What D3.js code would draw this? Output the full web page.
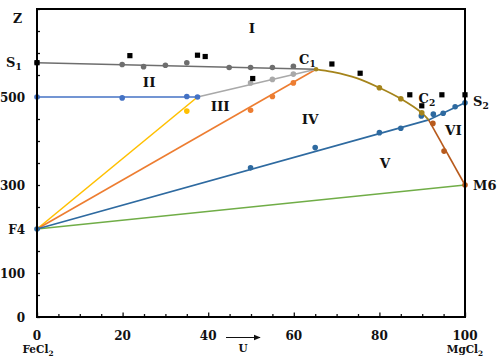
<!DOCTYPE html>
<html><head><meta charset="utf-8">
<script src="https://cdn.jsdelivr.net/npm/d3@7"></script>
<style>body{margin:0;background:#fff}svg{display:block}text{font-family:"DejaVu Serif",serif;font-weight:bold;fill:#111}</style>
</head><body><svg id="c" width="500" height="361"></svg>
<script>
// ---- data ----
const xTickValues = [0, 20, 40, 60, 80, 100];
const yTickValues = [0, 100, 200, 300, 500];
const yTickText = ["0", "100", "F4", "300", "500"];
const s1Line = [[0, 578], [65.2, 563]];
const s1Points = [[0, 578], [19.9, 574], [24.9, 569], [30, 572], [35, 578], [44.9, 567], [49.9, 567], [55, 567], [59.9, 570]];
const lightGrayLine = [[37.5, 500], [65.2, 563]];
const lightGrayPoints = [[49.9, 532], [55, 540], [59.9, 552]];
const blueFlatLine = [[0, 500], [37.5, 500]];
const blueFlatPoints = [[0, 500], [19.9, 498], [35, 501], [37.5, 500]];
const yellowLine = [[0, 200], [37.5, 500]];
const yellowPoints = [[35, 468]];
const orangeLine = [[0, 200], [65.2, 563]];
const orangePoints = [[49.9, 470], [55, 501], [59.9, 532]];
const goldCurve = [[65.2, 563], [69, 557], [74.7, 543], [80, 521], [85, 496], [89.9, 464], [91.5, 448]];
const goldPoints = [[80, 521], [85, 496], [89.9, 464]];
const steelLine = [[0, 200], [91.5, 448], [100, 487]];
const steelPoints = [[0, 200], [49.9, 339], [65, 385], [80, 419], [85, 429], [89.8, 457], [92.6, 461], [94.9, 463], [97.7, 478], [100, 487]];
const brownLine = [[91.5, 448], [100, 300]];
const brownPoints = [[92.5, 440], [95.1, 377], [100, 300]];
const greenLine = [[0, 200], [100, 300]];
const squares = [[0, 578], [21.7, 594], [37.5, 595], [39.3, 592], [50.4, 542], [68.9, 575], [75.5, 554], [87.1, 505], [89.9, 480], [94.6, 505], [100, 505]];
const regionNames = ["I", "II", "III", "IV", "V", "VI"];
const regionPos = [[50.2, 656], [26.2, 535], [42.8, 480], [63.8, 449], [81.3, 349], [97.3, 425]];

// ---- chart ----
const svg = d3.select("#c");
const x = d3.scaleLinear().domain([0, 100]).range([37, 465]);
const y = d3.scaleLinear().domain([0, 700]).range([317, 9]);
const line = d3.line().x(d => x(d[0])).y(d => y(d[1]));
const curve = d3.line().x(d => x(d[0])).y(d => y(d[1])).curve(d3.curveCatmullRom.alpha(0.5));

// ticks (inside)
const xt = svg.append("g").attr("transform", "translate(0,317)")
  .call(d3.axisTop(x).tickValues(d3.range(0, 101, 5)).tickSize(3).tickFormat(""));
xt.selectAll(".tick line").attr("y2", d => d % 20 === 0 ? -4.5 : -3).attr("stroke", "#111").attr("stroke-width", 1.3);
xt.select(".domain").remove();
const yt = svg.append("g").attr("transform", "translate(37,0)")
  .call(d3.axisRight(y).tickValues(d3.range(0, 701, 50)).tickSize(3).tickFormat(""));
yt.selectAll(".tick line").attr("stroke", "#111").attr("stroke-width", 1.3);
yt.select(".domain").remove();

function drawLine(data, color, w, gen) {
  svg.append("path").datum(data).attr("d", (gen || line)).attr("fill", "none")
    .attr("stroke", color).attr("stroke-width", w || 1.6);
}
function drawPts(data, color, r) {
  svg.append("g").selectAll("circle").data(data).join("circle")
    .attr("cx", d => x(d[0])).attr("cy", d => y(d[1])).attr("r", r || 2.8).attr("fill", color);
}

drawLine(greenLine, "#70ad47");
drawLine(yellowLine, "#ffc000");
drawLine(orangeLine, "#ed7d31");
drawLine(steelLine, "#2e6aa0");
drawLine(brownLine, "#b85a1c");
drawLine(blueFlatLine, "#4472c4");
drawLine(lightGrayLine, "#a9a9a9");
drawLine(s1Line, "#6e6e6e");
drawLine(goldCurve, "#a5841b", 1.8, curve);

drawPts(yellowPoints, "#ffc000");
drawPts(orangePoints, "#ed7d31");
drawPts(steelPoints, "#2e6aa0");
drawPts(brownPoints, "#b85a1c");
drawPts(blueFlatPoints, "#4472c4");
drawPts(lightGrayPoints, "#a9a9a9");
drawPts(s1Points, "#6e6e6e");
drawPts(goldPoints, "#a5841b");
drawPts([[65.2, 563]], "#a5841b", 2.3);

svg.append("g").selectAll("rect").data(squares).join("rect")
  .attr("x", d => x(d[0]) - 2.6).attr("y", d => y(d[1]) - 2.6)
  .attr("width", 5.2).attr("height", 5.2).attr("fill", "#000");

// frame
svg.append("rect").attr("x", 37).attr("y", 9).attr("width", 428).attr("height", 308)
  .attr("fill", "none").attr("stroke", "#000").attr("stroke-width", 2);

// tick labels
svg.append("g").selectAll("text").data(xTickValues).join("text")
  .attr("x", d => x(d)).attr("y", 339.5).attr("text-anchor", "middle")
  .style("font-size", "12px").text(d => d);
svg.append("g").selectAll("text").data(yTickValues).join("text")
  .attr("x", 25).attr("y", d => y(d) + 4.5).attr("text-anchor", "end")
  .style("font-size", "12px").text((d, i) => yTickText[i]);

// region labels
svg.append("g").selectAll("text").data(regionNames).join("text")
  .attr("x", (d, i) => x(regionPos[i][0])).attr("y", (d, i) => y(regionPos[i][1]) + 5)
  .attr("text-anchor", "middle").style("font-size", "13.5px").text(d => d);

function subLabel(px, py, main, sub, size, anchor) {
  const t = svg.append("text").attr("x", px).attr("y", py).style("font-size", size + "px")
    .attr("text-anchor", anchor || "start");
  t.append("tspan").text(main);
  if (sub) t.append("tspan").attr("dy", 3).style("font-size", (size * 0.7) + "px").text(sub);
}
subLabel(13, 23, "Z", "", 12.5);
subLabel(6, 67, "S", "1", 13);
subLabel(x(65.2) - 17, y(563) - 5, "C", "1", 13);
subLabel(x(91.5) - 10, y(448) - 17, "C", "2", 13);
subLabel(473, 106, "S", "2", 13);
subLabel(473, 190, "M6", "", 13);
subLabel(38, 353, "FeCl", "2", 10.5, "middle");
subLabel(465, 353, "MgCl", "2", 10.5, "middle");
svg.append("text").attr("x", 243).attr("y", 352).attr("text-anchor", "middle").style("font-size", "10.5px").text("U");

// arrow
svg.append("defs").append("marker").attr("id", "ah").attr("viewBox", "0 0 10 10")
  .attr("refX", 9).attr("refY", 5).attr("markerWidth", 6).attr("markerHeight", 6).attr("orient", "auto")
  .append("path").attr("d", "M0,1 L10,5 L0,9 z").attr("fill", "#111");
svg.append("line").attr("x1", 226).attr("x2", 260).attr("y1", 337.5).attr("y2", 337.5)
  .attr("stroke", "#111").attr("stroke-width", 1.2).attr("marker-end", "url(#ah)");
</script></body></html>
